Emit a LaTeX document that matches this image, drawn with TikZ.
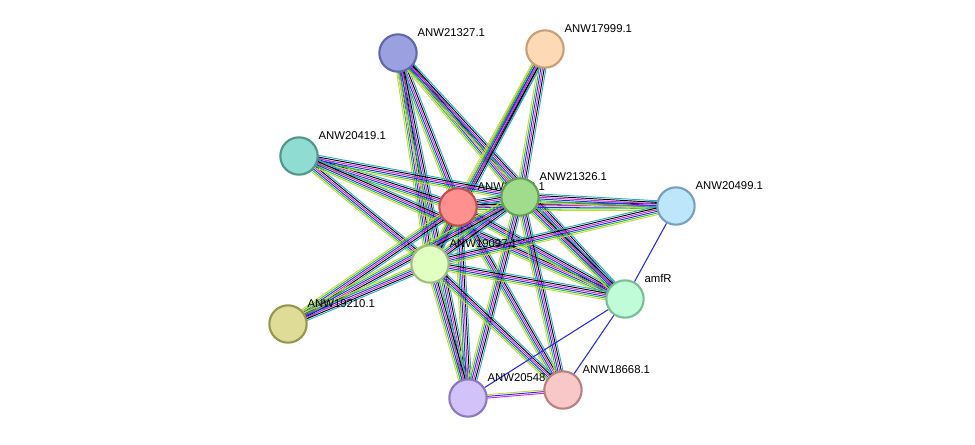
\documentclass[tikz,border=0pt]{standalone}
\usepackage{fontspec}
\setmainfont{Liberation Sans}
\usetikzlibrary{calc,backgrounds}
\definecolor{eyel}{RGB}{200,216,60}
\definecolor{egrn}{RGB}{40,190,40}
\definecolor{eblu}{RGB}{40,40,240}
\definecolor{emag}{RGB}{210,40,210}
\definecolor{ecya}{RGB}{40,170,200}

% parallel coloured lines between two named nodes
\newcommand\bundle[3]{%
  \foreach \c [count=\i] in {#3} {%
    \draw[\c, line width=0.7pt] let \p1=($(#2)-(#1)$), \n1={atan2(\y1,\x1)} in
      ($(#1)+(\n1+90:{(\i-3.5)*1.25pt})$) -- ($(#2)+(\n1+90:{(\i-3.5)*1.25pt})$);
  }}

\begin{document}
\begin{tikzpicture}[x=0.75pt,y=-0.75pt,
  prot/.style={circle,draw,line width=1.6pt,minimum size=28pt,inner sep=0pt},
  lab/.style={font=\fontsize{8.5}{10}\selectfont,anchor=south west,inner sep=1pt}]
  \useasboundingbox (0,0) rectangle (975,444);

  \node[prot,fill={rgb,255:red,154;green,160;blue,224},draw={rgb,255:red,96;green,104;blue,170}] (n21327) at (398,53) {};
  \node[prot,fill={rgb,255:red,253;green,217;blue,181},draw={rgb,255:red,200;green,160;blue,120}] (n17999) at (545,49) {};
  \node[prot,fill={rgb,255:red,143;green,221;blue,210},draw={rgb,255:red,80;green,150;blue,140}] (n20419) at (299,156) {};
  \node[prot,fill={rgb,255:red,255;green,144;blue,144},draw={rgb,255:red,190;green,80;blue,80}] (n21328) at (458,207) {};
  \node[prot,fill={rgb,255:red,160;green,220;blue,140},draw={rgb,255:red,100;green,160;blue,90}] (n21326) at (520,197) {};
  \node[prot,fill={rgb,255:red,189;green,230;blue,250},draw={rgb,255:red,120;green,160;blue,190}] (n20499) at (676,206) {};
  \node[prot,fill={rgb,255:red,224;green,255;blue,192},draw={rgb,255:red,160;green,190;blue,130}] (n19097) at (430,264) {};
  \node[prot,fill={rgb,255:red,222;green,220;blue,150},draw={rgb,255:red,150;green,150;blue,80}] (n19210) at (288,324) {};
  \node[prot,fill={rgb,255:red,192;green,252;blue,216},draw={rgb,255:red,120;green,190;blue,150}] (amfR) at (625,299) {};
  \node[prot,fill={rgb,255:red,210;green,194;blue,250},draw={rgb,255:red,140;green,120;blue,190}] (n20548) at (468,398) {};
  \node[prot,fill={rgb,255:red,248;green,200;blue,200},draw={rgb,255:red,180;green,130;blue,130}] (n18668) at (563,390) {};

  \begin{scope}[on background layer]
    \foreach \a/\b in {n21327/n21328,n21327/n21326,n21327/n19097,n21327/n20548,n21327/amfR,
      n17999/n21328,n17999/n21326,n17999/n19097,
      n20419/n21328,n20419/n21326,n20419/n19097,n20419/amfR,
      n21328/n21326,n21328/n20499,n21328/n19097,n21328/n19210,n21328/amfR,n21328/n20548,n21328/n18668,
      n21326/n20499,n21326/n19097,n21326/n19210,n21326/amfR,n21326/n20548,n21326/n18668,
      n19097/n20499,n19097/n19210,n19097/amfR,n19097/n20548,n19097/n18668}
      {\bundle{\a}{\b}{eyel,egrn,eblu,emag,black,ecya}}
    \draw[eblu,line width=0.8pt] (n20499) -- (amfR);
    \draw[eblu,line width=0.8pt] (amfR) -- (n20548);
    \draw[eblu,line width=0.8pt] (amfR) -- (n18668);
    \foreach \c [count=\i] in {eyel,eblu,emag} {
      \draw[\c,line width=0.7pt] ($(n20548)+(0,{(\i-2)*1.7})$) -- ($(n18668)+(0,{(\i-2)*1.7})$);}

    \node[lab] at (416,38) {ANW21327.1};
    \node[lab] at (563,34) {ANW17999.1};
    \node[lab] at (317,141) {ANW20419.1};
    \node[lab] at (476,192) {ANW21328.1};
    \node[lab] at (538,182) {ANW21326.1};
    \node[lab] at (694,191) {ANW20499.1};
    \node[lab] at (448,249) {ANW19097.1};
    \node[lab] at (306,309) {ANW19210.1};
    \node[lab] at (643,284) {amfR};
    \node[lab] at (486,383) {ANW20548.1};
    \node[lab] at (581,375) {ANW18668.1};
  \end{scope}
\end{tikzpicture}
\end{document}
